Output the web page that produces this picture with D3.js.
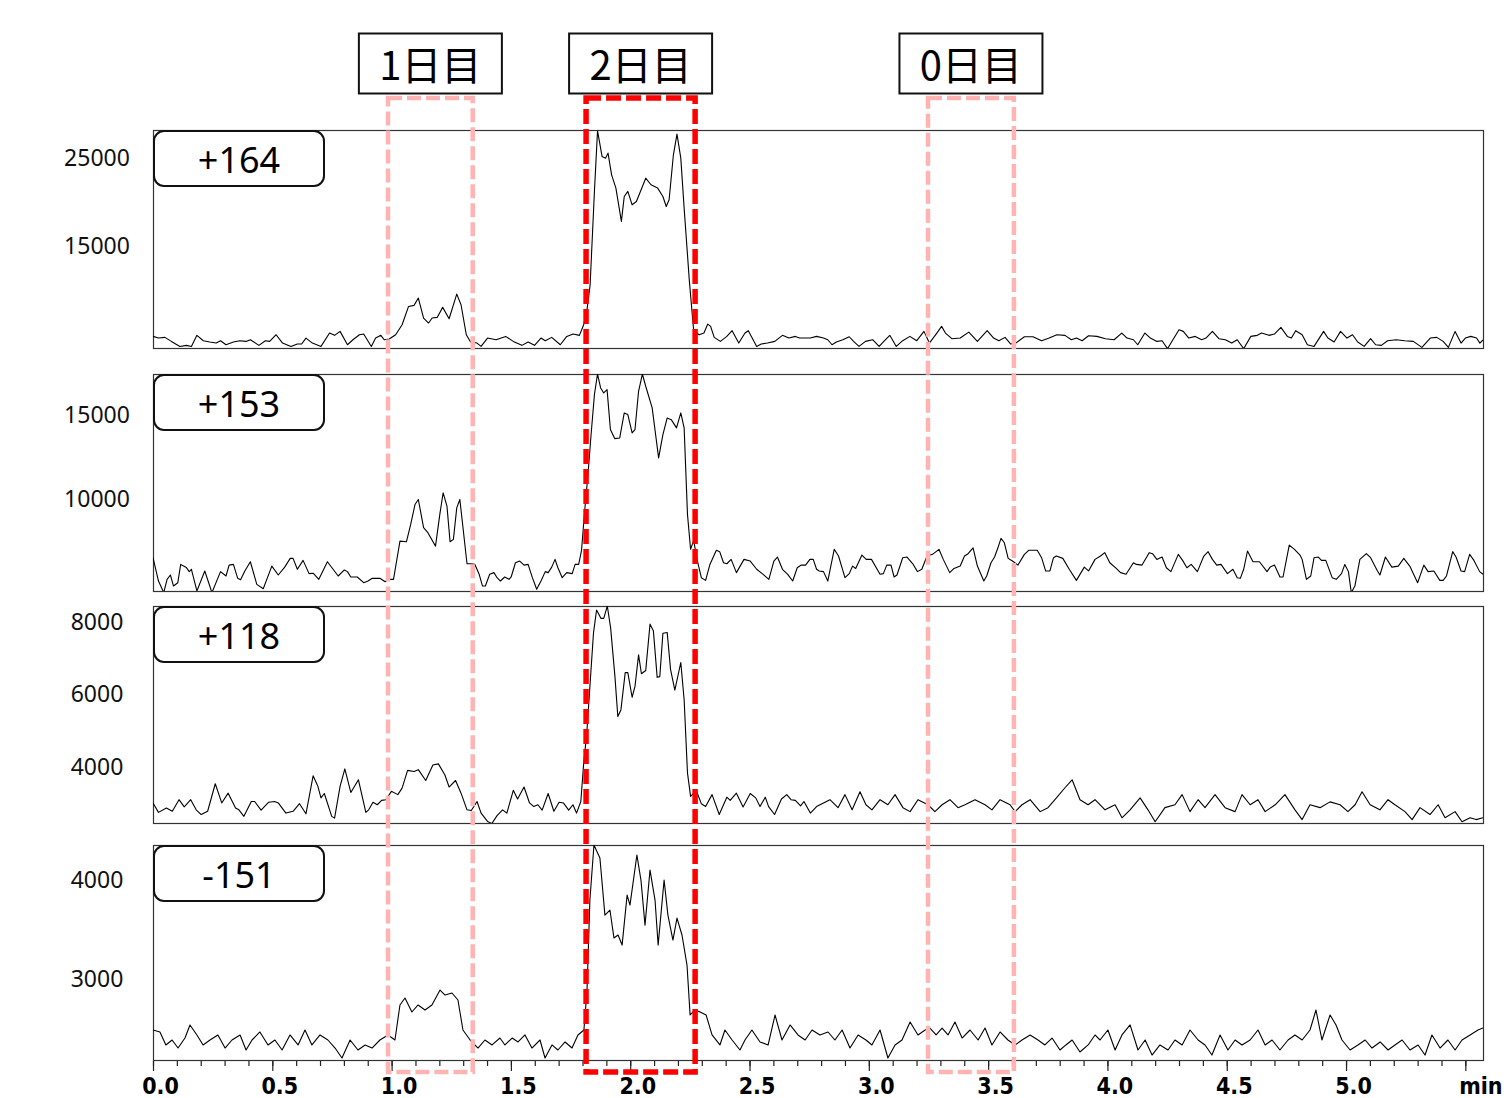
<!DOCTYPE html>
<html>
<head>
<meta charset="utf-8">
<script src="https://cdn.jsdelivr.net/npm/d3@7"></script>
<style>
  html, body { margin: 0; padding: 0; background: #fff; }
  svg { display: block; }
</style>
</head>
<body>
<svg id="chart" width="1509" height="1098"></svg>
<script>
// ---- Data -------------------------------------------------------------
const panelLabels = ["+164", "+153", "+118", "-151"];
const yTickValues = [[15000, 25000], [10000, 15000], [4000, 6000, 8000], [3000, 4000]];
const yDomains = [[3380, 28180], [4505, 17441], [2446, 8441], [2182, 4354]];

const windowLabels = ["1日目", "2日目", "0日目"];
const windowStart = [0.985, 1.815, 3.248];
const windowEnd = [1.340, 2.272, 3.608];
const windowHighlight = [false, true, false];

const xMajorTicks = [0, 0.5, 1.0, 1.5, 2.0, 2.5, 3.0, 3.5, 4.0, 4.5, 5.0, 5.5];
const xTickLabels = ["0.0", "0.5", "1.0", "1.5", "2.0", "2.5", "3.0", "3.5", "4.0", "4.5", "5.0", "min"];
const xDomain = [0, 5.574];

// m/z +164
const time164 = [0,0.023,0.050,0.077,0.113,0.140,0.161,0.184,0.211,0.238,0.265,0.283,0.306,0.337,0.364,0.390,0.408,0.444,0.471,0.489,0.516,0.543,0.578,0.605,0.623,0.641,0.668,0.704,0.740,0.761,0.784,0.815,0.838,0.865,0.883,0.915,0.933,0.955,0.969,0.990,1.017,1.044,1.071,1.094,1.112,1.134,1.155,1.170,1.191,1.214,1.241,1.273,1.291,1.313,1.331,1.358,1.375,1.402,1.438,1.478,1.510,1.546,1.572,1.599,1.626,1.644,1.671,1.707,1.734,1.761,1.787,1.805,1.818,1.832,1.850,1.863,1.882,1.897,1.907,1.922,1.940,1.963,1.975,1.990,2.008,2.026,2.065,2.087,2.115,2.137,2.151,2.163,2.181,2.196,2.212,2.226,2.248,2.266,2.289,2.309,2.325,2.337,2.352,2.378,2.405,2.427,2.455,2.481,2.495,2.530,2.549,2.575,2.606,2.638,2.665,2.692,2.710,2.755,2.781,
  2.810,2.828,2.846,2.864,2.891,2.918,2.936,2.959,2.986,3.016,3.043,3.070,3.088,3.115,3.142,3.172,3.201,3.231,3.254,3.285,3.305,3.321,3.348,3.383,3.419,3.455,3.496,3.523,3.545,3.571,3.595,3.616,3.652,3.688,3.724,3.756,3.788,3.822,3.849,3.870,3.894,3.921,3.956,3.992,4.028,4.060,4.082,4.109,4.127,4.157,4.180,4.207,4.229,4.252,4.270,4.300,4.318,4.341,4.368,4.395,4.413,4.440,4.467,4.494,4.521,4.544,4.571,4.601,4.628,4.646,4.677,4.700,4.727,4.754,4.771,4.789,4.816,4.838,4.866,4.906,4.924,4.950,4.977,5.004,5.027,5.049,5.076,5.103,5.124,5.148,5.174,5.210,5.246,5.282,5.318,5.353,5.380,5.407,5.429,5.457,5.482,5.500,5.523,5.547,5.561,5.574];
const signal164 = [4700,4510,4590,4130,3560,3680,3560,4820,4210,4060,3940,4210,3750,4060,4210,4130,4320,3680,4210,4130,4890,3940,3560,3830,3830,4510,3940,3560,5080,4820,5270,3750,4320,4890,4970,3560,4510,4820,4320,4400,4890,6030,8110,8230,9060,6790,6220,6790,6860,8000,6710,9510,8300,4890,4060,3940,3560,4510,4320,4700,4130,3680,4060,3680,4510,4210,4590,3750,4700,4970,4820,6030,7540,10580,21190,28090,25170,24980,25550,23080,21570,17780,20620,21190,19670,20050,22700,21950,21570,20620,19480,20240,25360,27710,24980,19290,10960,5350,4890,5080,6100,5840,4590,4130,4700,5350,3940,5080,5350,3560,3830,3940,4130,4820,4510,4700,4510,4510,4700,
  4510,4320,3750,4060,4320,4660,4130,3560,4130,4320,3560,4320,4820,3560,4210,4700,4210,5270,3940,5080,5840,5080,4440,4510,5190,4130,5350,4510,4210,4590,3830,3940,4660,4660,4210,4510,4890,4820,4320,4510,4210,4780,4700,4440,4320,5080,4510,4320,3750,5080,4510,4130,4210,3300,4130,5460,5270,4510,4700,4320,4510,5270,4440,4320,3940,4320,3300,4700,4820,5080,4820,4970,5730,4700,4510,5350,4890,3750,3560,5270,4510,4060,5270,4510,4890,4060,3560,4440,3750,3680,4210,4320,4210,4130,3450,4510,4590,4130,3450,5270,3940,4510,4700,4510,3940,4300];

// m/z +153
const time153 = [0,0.023,0.045,0.059,0.073,0.086,0.104,0.116,0.140,0.152,0.161,0.184,0.217,0.247,0.283,0.306,0.319,0.337,0.355,0.367,0.385,0.408,0.435,0.462,0.498,0.525,0.552,0.575,0.587,0.605,0.629,0.654,0.672,0.695,0.731,0.776,0.802,0.815,0.829,0.856,0.883,0.901,0.919,0.951,0.973,0.987,1.008,1.035,1.062,1.080,1.098,1.112,1.134,1.152,1.184,1.202,1.216,1.232,1.245,1.259,1.273,1.286,1.316,1.331,1.349,1.367,1.381,1.393,1.411,1.429,1.442,1.456,1.474,1.492,1.501,1.519,1.537,1.555,1.572,1.590,1.608,1.626,1.644,1.656,1.671,1.685,1.697,1.715,1.734,1.757,1.769,1.784,1.796,1.809,1.823,1.836,1.850,1.863,1.876,1.889,1.903,1.917,1.935,1.956,1.975,1.990,2.008,2.020,2.035,2.051,2.065,2.092,2.119,2.137,2.155,2.172,2.194,2.212,2.226,2.240,2.253,2.266,2.280,2.298,2.316,2.334,2.361,2.375,2.391,2.405,2.423,2.445,2.477,2.503,2.530,2.557,2.581,2.602,2.617,2.638,2.660,2.681,2.700,2.717,2.735,2.753,2.767,
  2.781,2.792,2.810,2.828,2.855,2.873,2.900,2.918,2.932,2.945,2.971,2.989,3.011,3.047,3.061,3.075,3.093,3.106,3.118,3.142,3.160,3.186,3.204,3.222,3.244,3.267,3.294,3.312,3.339,3.357,3.383,3.401,3.416,3.437,3.455,3.482,3.494,3.512,3.527,3.541,3.554,3.568,3.584,3.602,3.625,3.652,3.670,3.706,3.724,3.741,3.759,3.774,3.786,3.813,3.840,3.870,3.903,3.921,3.948,3.971,3.989,4.010,4.037,4.055,4.078,4.109,4.121,4.145,4.175,4.189,4.207,4.229,4.247,4.266,4.297,4.315,4.333,4.351,4.377,4.404,4.422,4.440,4.458,4.476,4.503,4.526,4.544,4.557,4.571,4.587,4.610,4.637,4.669,4.682,4.700,4.723,4.736,4.762,4.784,4.807,4.816,4.834,4.852,4.866,4.884,4.897,4.915,4.942,4.959,4.981,4.995,5.010,5.022,5.037,5.058,5.085,5.103,5.130,5.142,5.165,5.192,5.219,5.242,5.267,5.300,5.326,5.344,5.368,5.393,5.407,5.421,5.447,5.461,5.482,5.497,5.518,5.536,5.560,5.574];
const signal153 = [6490,5100,4410,5200,5460,4800,5000,6090,5900,5660,5800,4510,5700,4410,5660,5400,6050,6090,5260,5180,5700,6250,4900,4640,5990,5460,5930,6450,6450,5800,6330,5540,5560,5200,6250,5400,5760,5660,5340,5340,5000,5100,5260,5260,5060,5200,5200,7480,7440,8470,9660,9960,8280,7980,7180,9070,10360,9560,7440,7580,9460,9960,6130,6130,6090,5500,4800,4800,5500,5600,5300,5100,5340,5200,5340,6190,6290,6050,6090,5300,4610,5100,5660,5600,5930,6390,5890,5300,5600,5540,6090,6090,6930,9270,11450,13830,16210,17440,16610,16310,16510,14130,13590,13630,15120,15020,13930,14130,16410,17440,16710,15420,12440,13830,14820,14720,14230,15120,14230,9070,6990,7520,6390,5300,5140,6090,6930,6850,6190,6130,6390,5600,6390,6290,5800,5500,5200,6290,6530,5800,5500,5100,5890,6050,6050,6390,6390,
  5800,5700,5660,5100,6990,6590,5300,5540,5990,5850,6650,6390,6390,5500,5540,6050,6050,5340,5460,6490,6530,6090,5660,5800,6590,6690,6990,6390,5600,5850,5990,6590,6730,7080,5990,5100,5400,6190,6530,7080,7640,7380,6450,6290,6050,6690,6930,6930,6490,5700,5700,6490,6590,6450,5800,5140,5930,5700,6390,6590,6790,6190,5850,5600,5500,6190,6090,6050,6790,6730,6390,6530,5890,5660,6690,6330,5890,6090,5660,6590,6850,6390,6050,6090,5540,5800,5300,5260,5800,6890,6250,6250,5660,5930,6050,5340,5340,7240,6990,6650,6390,5200,5400,6490,6530,6330,6330,5300,5200,5540,6090,5660,4410,4800,6390,6730,6490,5740,5460,6530,5930,5990,6450,5990,5000,6050,5660,5700,5140,5140,5400,6850,6530,5700,5660,6690,6330,5660,5500];

// m/z +118
const time118 = [0,0.023,0.056,0.081,0.109,0.131,0.158,0.181,0.202,0.229,0.261,0.288,0.315,0.346,0.360,0.381,0.412,0.426,0.453,0.485,0.510,0.525,0.557,0.587,0.614,0.641,0.671,0.691,0.704,0.718,0.749,0.761,0.784,0.804,0.829,0.861,0.892,0.904,0.922,0.940,0.958,0.976,0.999,1.026,1.044,1.067,1.094,1.112,1.143,1.173,1.196,1.223,1.241,1.268,1.291,1.316,1.334,1.358,1.375,1.402,1.420,1.442,1.465,1.483,1.510,1.528,1.555,1.578,1.596,1.613,1.631,1.656,1.680,1.702,1.720,1.742,1.760,1.775,1.793,1.805,1.818,1.832,1.846,1.859,1.877,1.889,1.904,1.918,1.936,1.948,1.961,1.979,1.990,2.008,2.020,2.035,2.047,2.065,2.083,2.097,2.113,2.124,2.137,2.155,2.169,2.187,2.212,2.226,2.240,2.253,2.266,2.280,2.298,2.316,2.343,2.373,2.405,2.419,2.445,2.473,2.503,2.526,2.544,2.566,2.580,2.605,2.634,2.656,2.674,2.692,2.714,2.728,2.755,2.781,
  2.837,2.871,2.900,2.930,2.963,2.988,3.013,3.047,3.080,3.110,3.143,3.173,3.206,3.248,3.277,3.307,3.340,3.374,3.403,3.445,3.487,3.516,3.550,3.592,3.613,3.642,3.676,3.718,3.751,3.780,3.822,3.852,3.885,3.919,3.948,3.990,4.032,4.061,4.095,4.137,4.170,4.200,4.241,4.283,4.313,4.346,4.380,4.409,4.451,4.493,4.535,4.564,4.598,4.631,4.661,4.703,4.744,4.786,4.816,4.849,4.891,4.933,4.975,5.008,5.038,5.067,5.101,5.142,5.176,5.205,5.247,5.277,5.310,5.352,5.386,5.415,5.457,5.486,5.520,5.545,5.574];
const signal118 = [3000,2740,2860,2770,3090,2890,3090,2810,2680,2770,3530,3000,3270,2860,2810,2630,3040,3040,2800,3020,3040,3000,2720,2770,2980,2700,3750,3460,3140,3260,2630,2580,3460,3940,3290,3640,2740,2810,3020,2950,3070,3090,3320,3230,3410,3900,3870,3920,3620,4050,4080,3780,3440,3620,3270,2810,2790,3040,2720,2490,2430,2650,2810,2720,3350,3110,3440,3000,2900,2950,2800,3260,2770,3020,3000,2800,2950,2720,3040,4100,4930,6310,7690,8330,8100,8100,8440,7830,6490,5390,5570,6600,6600,5920,6220,7090,6570,6660,7940,7760,6470,6490,7690,7710,6690,6120,6880,5850,3830,3180,3270,3290,2980,2900,3230,2680,3160,3070,3270,2890,3260,3140,2900,3160,2900,2680,3110,3230,3090,3070,2920,3040,2720,2900,
  3090,2870,3230,2810,3310,2950,2810,3090,2950,3230,2870,2760,3090,2950,2760,2950,3090,2870,2950,3090,2950,2810,3090,2950,2760,2950,3090,2760,2870,3090,3420,3640,3090,2950,3090,2810,2950,2590,2810,3140,2810,2480,2870,2950,3230,2760,3090,2870,3230,2870,2760,3230,2950,3090,2760,2950,3230,2810,2540,2950,2870,3030,2950,2760,2950,3310,2950,2810,3090,2950,2760,2540,2870,2680,2950,2590,2760,2480,2590,2540,2590];

// m/z -151
const time151 = [0,0.029,0.054,0.080,0.105,0.134,0.155,0.184,0.210,0.239,0.272,0.302,0.331,0.365,0.390,0.415,0.448,0.482,0.511,0.541,0.574,0.608,0.637,0.666,0.700,0.733,0.763,0.792,0.826,0.859,0.889,0.918,0.951,0.985,1.014,1.035,1.056,1.085,1.111,1.140,1.169,1.203,1.224,1.253,1.278,1.299,1.329,1.362,1.391,1.421,1.454,1.475,1.505,1.530,1.559,1.588,1.622,1.643,1.672,1.697,1.727,1.756,1.781,1.806,1.819,1.831,1.848,1.873,1.894,1.915,1.932,1.949,1.966,1.987,1.999,2.028,2.045,2.062,2.083,2.104,2.117,2.142,2.158,2.179,2.196,2.217,2.238,2.251,2.272,2.293,2.318,2.343,2.376,2.397,2.427,2.460,2.481,2.510,2.544,2.578,2.607,2.636,2.670,2.703,2.733,2.762,2.795,2.829,2.858,2.888,2.921,2.955,2.988,3.013,3.047,3.080,3.110,3.139,3.173,3.206,3.236,3.256,3.282,3.307,3.332,3.361,3.391,3.424,3.458,3.487,3.516,3.550,3.583,3.613,3.642,3.676,3.709,3.738,3.768,3.801,3.826,3.852,3.885,3.919,3.948,3.969,4.002,4.032,4.061,4.095,4.128,4.158,4.187,4.220,4.254,4.283,4.313,4.346,4.380,4.409,4.438,4.472,4.505,4.535,4.564,4.598,4.631,4.661,4.690,4.723,4.757,4.786,4.816,4.849,4.874,4.899,4.933,4.958,4.983,5.017,5.050,5.080,5.109,5.143,5.176,5.205,5.235,5.268,5.302,5.331,5.360,5.394,5.427,5.457,5.486,5.520,5.553,5.574];
const signal151 = [2485,2465,2334,2384,2303,2404,2536,2435,2334,2384,2435,2303,2384,2435,2283,2384,2465,2334,2384,2283,2435,2334,2485,2334,2435,2384,2303,2202,2384,2283,2334,2303,2384,2435,2384,2738,2808,2667,2738,2687,2738,2889,2838,2859,2788,2485,2384,2303,2384,2334,2404,2334,2404,2364,2435,2303,2384,2202,2334,2283,2364,2303,2435,2485,2889,3798,4354,4222,3646,3697,3414,3445,3343,3848,3747,4253,4000,3545,4101,3798,3343,4000,3646,3394,3616,3445,3141,2637,2687,2667,2637,2435,2334,2485,2384,2283,2384,2485,2364,2334,2637,2384,2536,2435,2384,2485,2435,2465,2384,2485,2303,2435,2384,2334,2485,2202,2334,2384,2566,2435,2485,2505,2435,2505,2435,2566,2404,2485,2384,2505,2334,2465,2384,2334,2384,2435,2384,2334,2404,2283,2334,2384,2263,2334,2435,2384,2485,2283,2435,2536,2283,2384,2232,2334,2283,2384,2334,2485,2384,2334,2232,2435,2283,2384,2334,2384,2485,2334,2384,2283,2384,2435,2384,2485,2687,2384,2637,2536,2384,2283,2334,2384,2303,2364,2283,2334,2384,2283,2334,2232,2435,2303,2384,2283,2384,2435,2485,2505];

const panelTimes = [time164, time153, time118, time151];
const panelSignals = [signal164, signal153, signal118, signal151];

// ---- Layout -----------------------------------------------------------
const svg = d3.select("#chart");
const plotLeft = 153, plotRight = 1483;
const panelTop = [130, 374, 606, 845];
const panelHeight = [218, 217, 217, 215];
const axisY = 1061;
const labelFont = "'Noto Sans', 'Noto Sans CJK JP', sans-serif";

const x = d3.scaleLinear().domain(xDomain).range([plotLeft, plotRight]);

const defs = svg.append("defs");

panelLabels.forEach((label, i) => {
  const top = panelTop[i], h = panelHeight[i];
  const y = d3.scaleLinear().domain(yDomains[i]).range([top + h, top]);

  defs.append("clipPath").attr("id", "clip" + i)
    .append("rect").attr("x", plotLeft).attr("y", top).attr("width", plotRight - plotLeft).attr("height", h);

  const g = svg.append("g");

  // frame
  g.append("rect")
    .attr("x", plotLeft + 0.5).attr("y", top + 0.5)
    .attr("width", plotRight - plotLeft).attr("height", h)
    .attr("fill", "none").attr("stroke", "#333").attr("stroke-width", 1.2);

  // y labels (no tick marks)
  const yAxis = g.append("g").attr("transform", `translate(${plotLeft},0)`)
    .call(d3.axisLeft(y).tickValues(yTickValues[i]).tickSize(0).tickFormat(d3.format("d")));
  yAxis.select(".domain").remove();
  yAxis.selectAll("text")
    .attr("x", -56).attr("text-anchor", "middle")
    .style("font-family", labelFont).style("font-size", "23px").attr("fill", "#111");

  // trace
  const pts = panelTimes[i].map((t, k) => [t, panelSignals[i][k]]);
  g.append("path")
    .datum(pts)
    .attr("clip-path", `url(#clip${i})`)
    .attr("fill", "none").attr("stroke", "#000").attr("stroke-width", 1.1)
    .attr("stroke-linejoin", "round")
    .attr("d", d3.line().x(d => x(d[0])).y(d => y(d[1])));

  // ion label box
  g.append("rect")
    .attr("x", plotLeft + 1).attr("y", top + 1)
    .attr("width", 170).attr("height", 55).attr("rx", 10)
    .attr("fill", "#fff").attr("stroke", "#111").attr("stroke-width", 2);
  g.append("text")
    .attr("x", plotLeft + 86).attr("y", top + 43)
    .attr("text-anchor", "middle")
    .style("font-family", labelFont).style("font-size", "36px").attr("fill", "#000")
    .text(label);
});

// ---- x axis -------------------------------------------------------------
const minorTicks = d3.range(0, 5.55, 0.1);
const minorAxis = svg.append("g").attr("transform", `translate(0,${axisY})`)
  .call(d3.axisBottom(x).tickValues(minorTicks).tickSize(5).tickFormat(""));
minorAxis.select(".domain").remove();
minorAxis.selectAll("line").attr("stroke", "#222").attr("stroke-width", 1.2);

const majorAxis = svg.append("g").attr("transform", `translate(0,${axisY})`)
  .call(d3.axisBottom(x).tickValues(xMajorTicks).tickSize(10).tickFormat((d, i) => xTickLabels[i]));
majorAxis.select(".domain").remove();
majorAxis.selectAll("line").attr("stroke", "#222").attr("stroke-width", 1.2);
majorAxis.selectAll("text")
  .attr("y", 17)
  .attr("dx", (d, i) => i === xTickLabels.length - 1 ? 15 : 7)
  .style("font-family", "'DejaVu Sans Condensed', 'DejaVu Sans', sans-serif")
  .style("font-stretch", "condensed")
  .style("font-weight", "bold").style("font-size", "23px").attr("fill", "#000");

// ---- day windows ----------------------------------------------------------
const winTop = 98, winBottom = 1072;
windowLabels.forEach((label, i) => {
  const x0 = x(windowStart[i]), x1 = x(windowEnd[i]);
  const hi = windowHighlight[i];
  svg.append("rect")
    .attr("x", x0).attr("y", winTop)
    .attr("width", x1 - x0).attr("height", winBottom - winTop)
    .attr("fill", "none")
    .attr("stroke", hi ? "#ff0000" : "#ffb3b3")
    .attr("stroke-width", hi ? 5.5 : 4.5)
    .attr("stroke-dasharray", hi ? "15,5" : "14,5");

  const cx = (x0 + x1) / 2;
  svg.append("rect")
    .attr("x", cx - 71.5).attr("y", 33.5)
    .attr("width", 143).attr("height", 60)
    .attr("fill", "#fff").attr("stroke", "#111").attr("stroke-width", 2);
  svg.append("text")
    .attr("x", cx).attr("y", 80)
    .attr("text-anchor", "middle")
    .style("font-family", "'Noto Sans CJK JP', sans-serif")
    .style("font-size", "40px").style("font-weight", 400).attr("fill", "#000")
    .text(label);
});
</script>
</body>
</html>
